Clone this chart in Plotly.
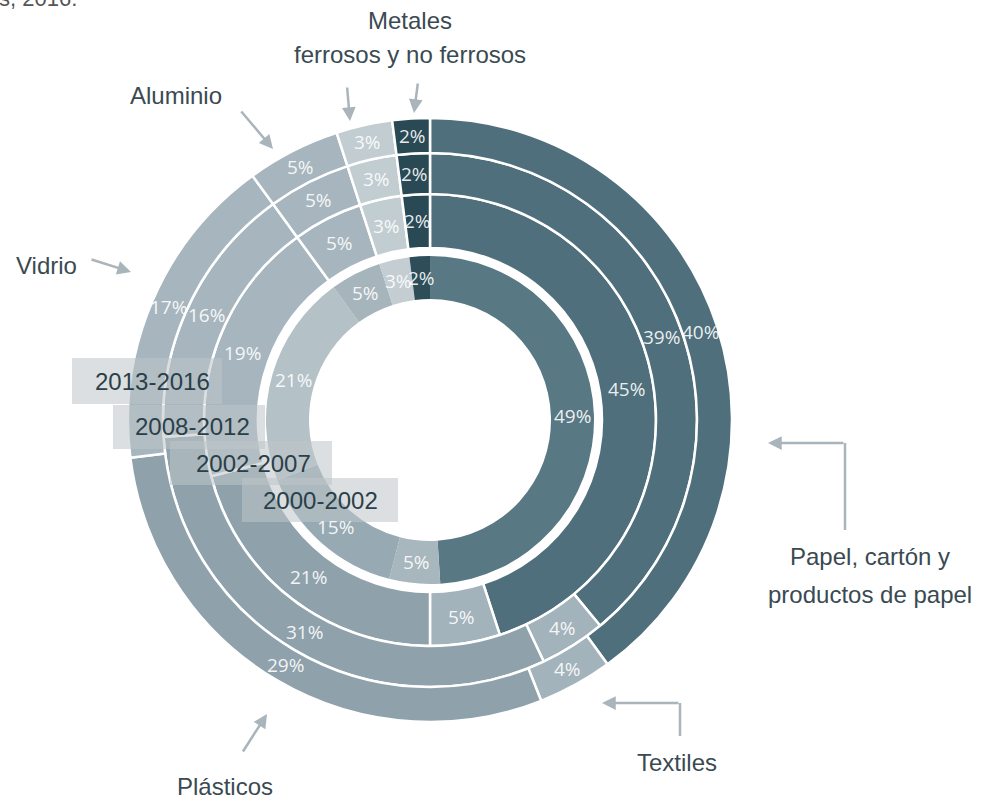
import math
import plotly.graph_objects as go

# ---------------- data ----------------
categories = ["Papel, cartón y productos de papel", "Textiles", "Plásticos", "Vidrio",
              "Aluminio", "Metales ferrosos", "Metales no ferrosos"]
periods = ["2000-2002", "2002-2007", "2008-2012", "2013-2016"]
v_2000_2002 = [49, 5, 15, 21, 5, 3, 2]
v_2002_2007 = [45, 5, 21, 19, 5, 3, 2]
v_2008_2012 = [39, 4, 31, 16, 5, 3, 2]
v_2013_2016 = [40, 4, 29, 17, 5, 3, 2]
values = [v_2000_2002, v_2002_2007, v_2008_2012, v_2013_2016]

# ---------------- style ----------------
W, H = 983, 800
CX, CY = 430, 420
outer_r = [164, 226, 267, 302]
inner_r = [121, 172, 226, 267]
colors_outer = ["#4f6f7c", "#a3b3bb", "#8fa2ac", "#a7b6be", "#a7b6be", "#c2cdd2", "#294955"]
colors_inner = ["#587884", "#a8b6bd", "#97aab3", "#b4c1c7", "#a6b5bc", "#c3cdd2", "#2d4d59"]


def px(x):
    return x / W


def py(y):
    return 1 - y / H


fig = go.Figure()
annotations = []
shapes = []

pct_font = dict(family="Open Sans", size=19, color="rgba(255,255,255,0.9)")

for i, (vals, per) in enumerate(zip(values, periods)):
    R = outer_r[i]
    dom_x = [(CX - R) / W, (CX + R) / W]
    dom_y = [1 - (CY + R) / H, 1 - (CY - R) / H]
    fig.add_trace(go.Pie(
        labels=categories, values=vals, name=per,
        sort=False, direction="clockwise", rotation=0,
        hole=inner_r[i] / R,
        domain=dict(x=dom_x, y=dom_y),
        marker=dict(colors=colors_inner if i == 0 else colors_outer,
                    line=dict(color="white", width=0 if i == 0 else 2.5)),
        textinfo="none",
        hoverinfo="label+percent+name", showlegend=False,
    ))
    # percentage labels at the middle of each slice (derived from the data)
    total = sum(vals)
    cum = 0
    rmid = (inner_r[i] + R) / 2
    for v in vals:
        ang = math.radians(360 * (cum + v / 2) / total)
        cum += v
        x = CX + rmid * math.sin(ang)
        y = CY - rmid * math.cos(ang)
        annotations.append(dict(text=f"{v}%", x=px(x), y=py(y), xref="paper", yref="paper",
                                showarrow=False, xanchor="center", yanchor="middle",
                                font=pct_font))

label_font = dict(family="Liberation Sans, Arial", size=24, color="#3a4a52")
ARROW = "#a9b5bb"


def text(t, x, y, **kw):
    annotations.append(dict(text=t, x=px(x), y=py(y), xref="paper", yref="paper",
                            showarrow=False, xanchor=kw.get("xanchor", "center"),
                            yanchor="middle", font=kw.get("font", label_font)))


def arrow(tip, tail):
    annotations.append(dict(text="", x=px(tip[0]), y=py(tip[1]), xref="paper", yref="paper",
                            showarrow=True, ax=tail[0] - tip[0], ay=tail[1] - tip[1],
                            axref="pixel", ayref="pixel",
                            arrowhead=2, arrowsize=1.1, arrowwidth=2.5, arrowcolor=ARROW))


def line(p0, p1):
    shapes.append(dict(type="line", xref="paper", yref="paper",
                       x0=px(p0[0]), y0=py(p0[1]), x1=px(p1[0]), y1=py(p1[1]),
                       line=dict(color=ARROW, width=2.5)))


# category labels
text("s, 2016.", -3, -2, xanchor="left", font=dict(family="Liberation Sans, Arial", size=22, color="#555"))
text("Metales", 410, 21)
text("ferrosos y no ferrosos", 410, 55)
text("Aluminio", 176, 95)
text("Vidrio", 46, 265)
text("Papel, cartón y", 870, 556)
text("productos de papel", 870, 594)
text("Textiles", 677, 762)
text("Plásticos", 225, 786)

# arrows
arrow((350, 121), (347, 86))
arrow((414, 113), (418, 82))
arrow((273, 149), (240, 110))
arrow((131, 272), (90, 259))
arrow((768, 443), (845, 443))
line((845, 443), (845, 530))
arrow((602, 703), (680, 703))
line((680, 703), (680, 736))
arrow((267, 714), (242, 753))

# period boxes
boxes = [(72, 358, 222, 404), (113, 405, 265, 449), (170, 441, 332, 485), (242, 478, 398, 522)]
box_text_pos = [(152, 381), (192, 426), (253, 463), (320, 500)]
for (x0, y0, x1, y1) in boxes:
    shapes.append(dict(type="rect", xref="paper", yref="paper",
                       x0=px(x0), x1=px(x1), y0=py(y1), y1=py(y0),
                       fillcolor="rgba(190,197,200,0.55)", line=dict(width=0)))
for (x, y), per in zip(box_text_pos, reversed(periods)):
    text(per, x, y, font=dict(family="Liberation Sans, Arial", size=24, color="#2b3f48"))

fig.update_layout(
    width=W, height=H,
    margin=dict(l=0, r=0, t=0, b=0),
    paper_bgcolor="white", plot_bgcolor="white",
    showlegend=False,
    annotations=annotations, shapes=shapes,
)

fig.write_html("out.html")
